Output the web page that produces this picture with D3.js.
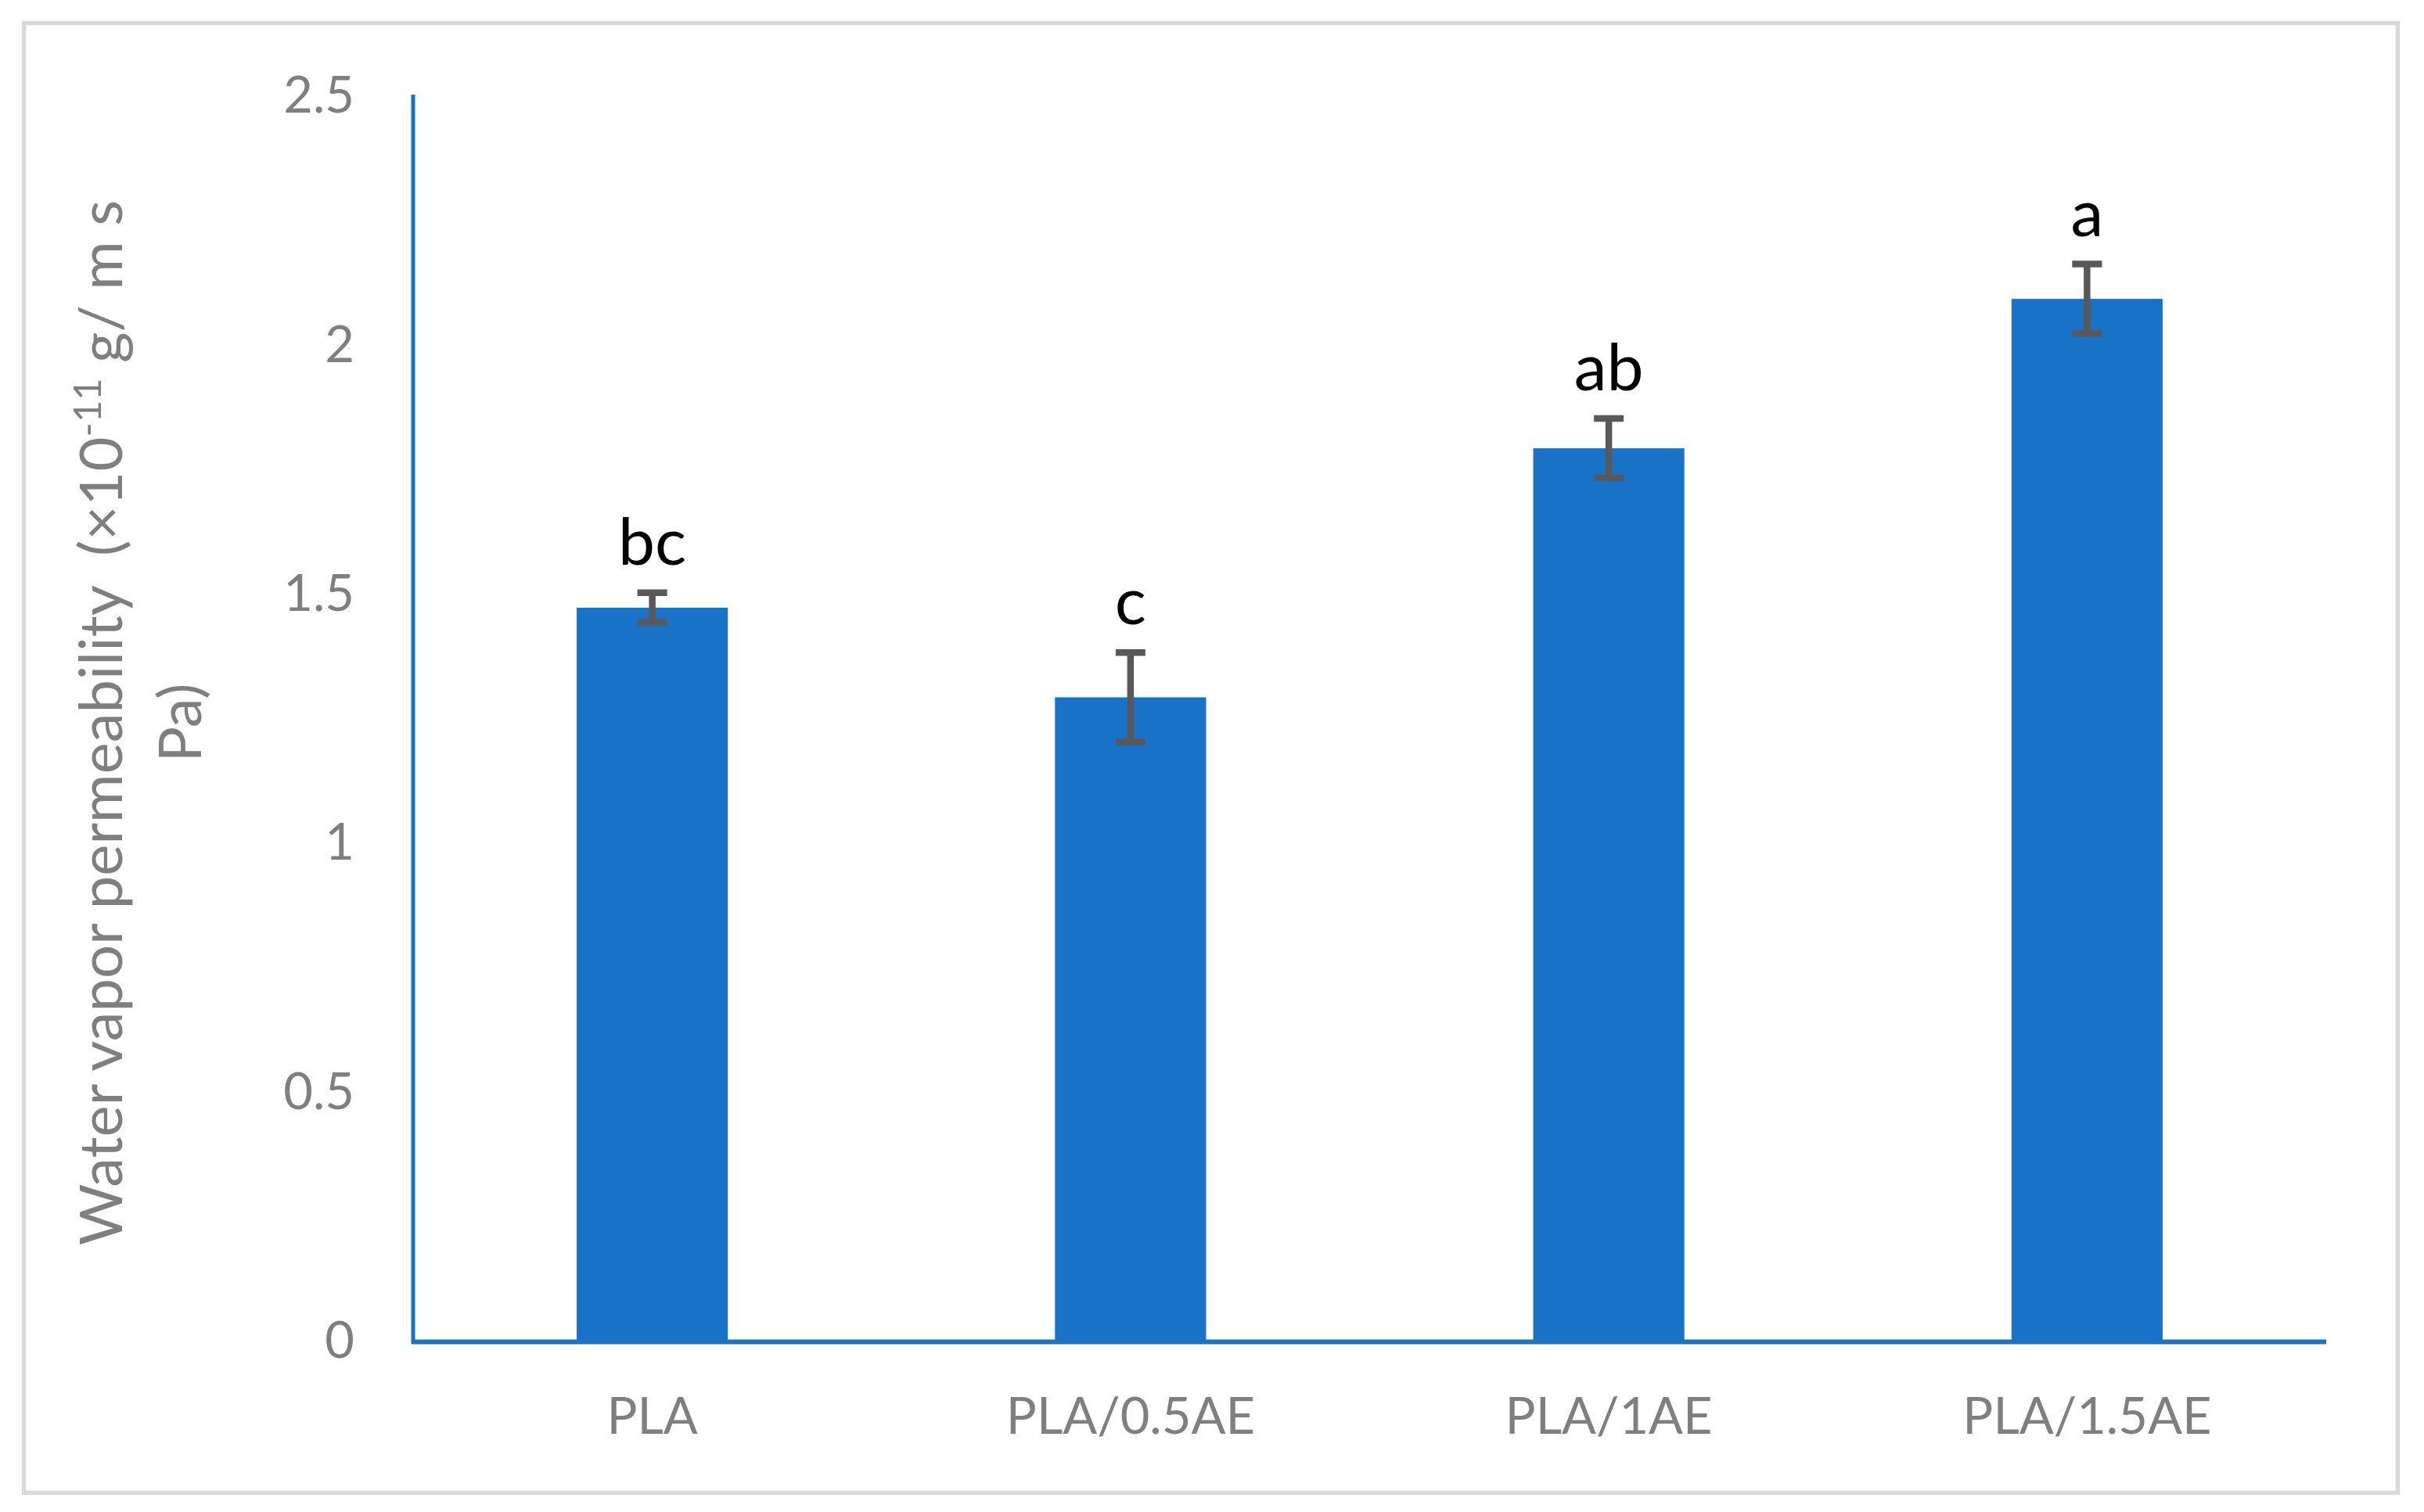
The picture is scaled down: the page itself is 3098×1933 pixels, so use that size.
<!DOCTYPE html>
<html>
<head>
<meta charset="utf-8">
<script src="https://cdn.jsdelivr.net/npm/d3@7"></script>
<style>
  body { margin: 0; background: #fff; }
  text { font-family: Lato, "Open Sans", sans-serif; }
</style>
</head>
<body>
<div id="chart"></div>
<script>
// data
var samples = ["PLA", "PLA/0.5AE", "PLA/1AE", "PLA/1.5AE"];
var wvp = [1.47, 1.29, 1.79, 2.09];
var wvpErr = [0.03, 0.09, 0.06, 0.07];
var letters = ["bc", "c", "ab", "a"];
var yTicks = [0, 0.5, 1, 1.5, 2, 2.5];

var svgWidth = 3098;
var svgHeight = 1933;

var margin = { top: 121, right: 125, bottom: 220, left: 528 };
var width = svgWidth - margin.left - margin.right;
var height = 1713 - margin.top;

var svg = d3.select("#chart")
  .append("svg")
  .attr("width", svgWidth)
  .attr("height", svgHeight);

svg.append("rect")
  .attr("width", svgWidth).attr("height", svgHeight)
  .attr("fill", "#fff");

// outer frame
svg.append("rect")
  .attr("x", 30.5).attr("y", 29.5)
  .attr("width", 3034).attr("height", 1879)
  .attr("fill", "none")
  .attr("stroke", "#d9d9d9")
  .attr("stroke-width", 5.5);

var chartGroup = svg.append("g")
  .attr("transform", `translate(${margin.left}, ${margin.top})`);

var xScale = d3.scaleBand()
  .domain(samples)
  .range([0, width])
  .paddingInner(0.684)
  .paddingOuter(0.342);

var yScale = d3.scaleLinear()
  .domain([0, 2.5])
  .range([height, 0]);

var blue = "#1873c8";

// bars
chartGroup.selectAll(".bar")
  .data(samples)
  .enter()
  .append("rect")
  .attr("class", "bar")
  .attr("x", d => xScale(d))
  .attr("y", (d, i) => yScale(wvp[i]))
  .attr("width", xScale.bandwidth())
  .attr("height", (d, i) => height - yScale(wvp[i]))
  .attr("fill", blue);

// axes
var leftAxis = d3.axisLeft(yScale)
  .tickValues(yTicks)
  .tickFormat(d3.format("~g"))
  .tickSize(0)
  .tickPadding(75);

var gy = chartGroup.append("g").call(leftAxis);
gy.select(".domain")
  .attr("d", `M0,${height + 5}V0`)
  .attr("stroke", blue)
  .attr("stroke-width", 5);
gy.selectAll("text")
  .attr("font-size", 65)
  .attr("fill", "#7f7f7f")
  .attr("dy", "0.35em");

var bottomAxis = d3.axisBottom(xScale)
  .tickSize(0)
  .tickPadding(0);

var gx = chartGroup.append("g")
  .attr("transform", `translate(0, ${height})`)
  .call(bottomAxis);
gx.select(".domain")
  .attr("d", `M-2,2.5H${width}`)
  .attr("stroke", blue)
  .attr("stroke-width", 6);
gx.selectAll("text")
  .attr("font-size", 65)
  .attr("fill", "#7f7f7f")
  .attr("y", 120)
  .attr("dy", 0);

// error bars
var errColor = "#595959";
var capW = 38;
var errGroup = chartGroup.selectAll(".err")
  .data(samples)
  .enter()
  .append("g")
  .attr("class", "err")
  .attr("stroke", errColor)
  .attr("stroke-width", 8.5);

errGroup.append("line")
  .attr("x1", d => xScale(d) + xScale.bandwidth() / 2)
  .attr("x2", d => xScale(d) + xScale.bandwidth() / 2)
  .attr("y1", (d, i) => yScale(wvp[i] - wvpErr[i]))
  .attr("y2", (d, i) => yScale(wvp[i] + wvpErr[i]));

[-1, 1].forEach(function(sign) {
  errGroup.append("line")
    .attr("x1", d => xScale(d) + xScale.bandwidth() / 2 - capW / 2)
    .attr("x2", d => xScale(d) + xScale.bandwidth() / 2 + capW / 2)
    .attr("y1", (d, i) => yScale(wvp[i] + sign * wvpErr[i]))
    .attr("y2", (d, i) => yScale(wvp[i] + sign * wvpErr[i]));
});

// significance letters
chartGroup.selectAll(".letter")
  .data(samples)
  .enter()
  .append("text")
  .attr("class", "letter")
  .attr("x", d => xScale(d) + xScale.bandwidth() / 2)
  .attr("y", (d, i) => yScale(wvp[i] + wvpErr[i]) - 36)
  .attr("text-anchor", "middle")
  .attr("font-size", 84)
  .attr("fill", "#000")
  .text((d, i) => letters[i]);

// y axis title
var title = svg.append("text")
  .attr("transform", "translate(156, 924) rotate(-90)")
  .attr("text-anchor", "middle")
  .attr("font-size", 76)
  .attr("fill", "#7f7f7f");

var line1 = title.append("tspan").attr("x", 0).attr("y", 0);
line1.append("tspan").text("Water vapor permeability \u00a0(\u00d710");
line1.append("tspan").attr("font-size", 49).attr("dy", -27).text("-11");
line1.append("tspan").attr("dy", 27).text(" g/ m s");

title.append("tspan")
  .attr("x", 0)
  .attr("y", 101)
  .text("Pa)");
</script>
</body>
</html>
